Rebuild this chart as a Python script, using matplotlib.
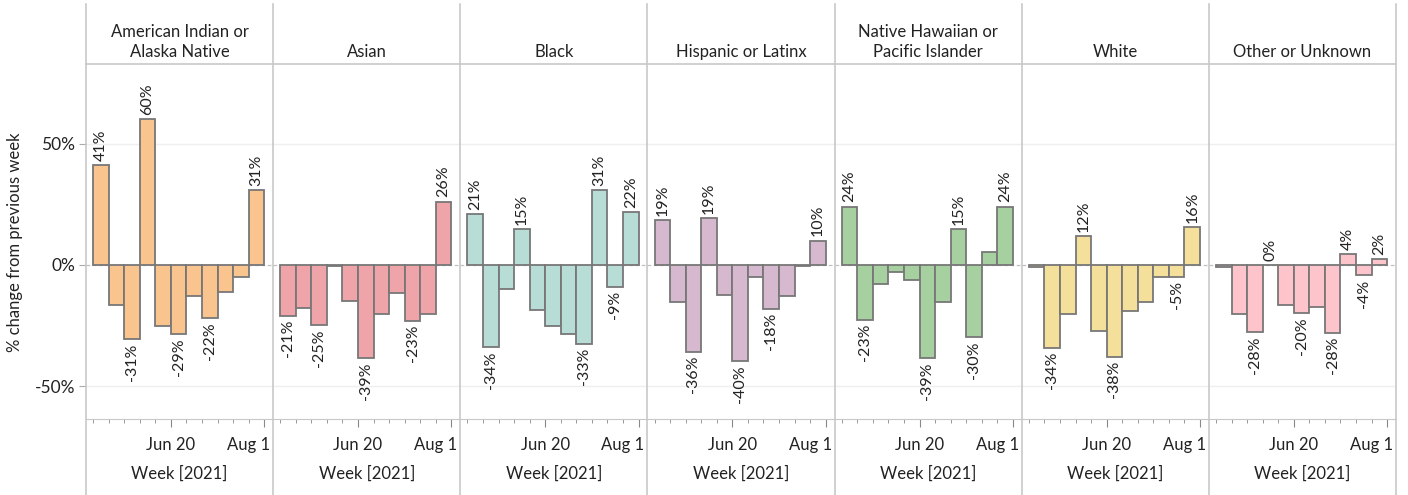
import numpy as np
import matplotlib
matplotlib.use("Agg")
import matplotlib.pyplot as plt
import matplotlib.dates as mdates
from matplotlib.lines import Line2D
from matplotlib.transforms import ScaledTranslation
import datetime

plt.rcParams['font.family'] = ['Lato', 'DejaVu Sans']

# week start dates (11 weekly bars, mid May to end of July 2021)
weeks = [datetime.date(2021, 5, 16) + datetime.timedelta(days=7 * i) for i in range(11)]

groups = ['American Indian or\nAlaska Native', 'Asian', 'Black', 'Hispanic or Latinx',
          'Native Hawaiian or\nPacific Islander', 'White', 'Other or Unknown']
colors = ['#f9c48e', '#eea4a8', '#b8ddd7', '#d6b8cf', '#a7d0a0', '#f5e09b', '#fec4cc']

# % change from previous week
aian = [41.3, -16.7, -30.6, 60.4, -25.3, -28.6, -12.8, -21.8, -11.2, -4.8, 31.0]
asian = [-20.9, -17.9, -24.8, -0.5, -14.9, -38.6, -20.2, -11.7, -23.0, -20.2, 26.2]
black = [21.1, -33.8, -9.9, 14.9, -18.5, -25.3, -28.4, -32.6, 31.0, -9.1, 21.9]
hispanic = [18.6, -15.4, -35.8, 19.3, -12.3, -39.8, -4.8, -18.1, -12.9, -0.6, 10.1]
nhpi = [24.1, -22.6, -8.0, -2.9, -6.1, -38.6, -15.4, 14.9, -29.8, 5.4, 24.1]
white = [-1.0, -34.2, -20.4, 11.8, -27.3, -37.8, -19.1, -15.4, -4.8, -4.9, 15.6]
other = [-1.0, -20.4, -27.8, 0.0, -16.7, -19.8, -17.4, -27.9, 4.4, -4.3, 2.4]
series = [aian, asian, black, hispanic, nhpi, white, other]

# which bars carry a value label in the original
labeled = [
    [0, 2, 3, 5, 7, 10],
    [0, 2, 5, 8, 10],
    [0, 1, 3, 7, 8, 9, 10],
    [0, 2, 3, 5, 7, 10],
    [0, 1, 5, 7, 8, 10],
    [1, 3, 5, 9, 10],
    [2, 3, 5, 7, 8, 9, 10],
]

W, H = 1408, 495
fig = plt.figure(figsize=(W / 100, H / 100), dpi=100)

left0, pw = 86, 187.15
top, bottom = 64, 419
grey_line = '#c8c8c8'
xnum = mdates.date2num(weeks)
minor = [mdates.date2num(datetime.date(2021, 5, 16) + datetime.timedelta(days=7 * i)) for i in range(12)]
major = [mdates.date2num(datetime.date(2021, 6, 20)), mdates.date2num(datetime.date(2021, 8, 1))]
xlo = mdates.date2num(datetime.date(2021, 5, 12)) + 0.8
xhi = mdates.date2num(datetime.date(2021, 8, 5))

for i, (name, vals) in enumerate(zip(groups, series)):
    x0 = left0 + pw * i
    ax = fig.add_axes([x0 / W, (H - bottom) / H, pw / W, (bottom - top) / H])
    ax.bar(xnum, vals, width=7, align='edge', color=colors[i],
           edgecolor='#777777', linewidth=1.3, zorder=3)
    for j in labeled[i]:
        v = vals[j]
        xc = xnum[j] + 3.5
        txt = '%d%%' % round(v)
        if v >= 0:
            ax.annotate(txt, (xc, v), xytext=(0, 3), textcoords='offset points',
                        rotation=90, ha='center', va='bottom', fontsize=11.5, color='#222222')
        else:
            ax.annotate(txt, (xc, v), xytext=(0, -3), textcoords='offset points',
                        rotation=90, ha='center', va='top', fontsize=11.5, color='#222222')
    ax.set_xlim(xlo, xhi)
    ax.set_ylim(-63.6, 83)
    ax.axhline(0, color='#c0c0c0', linestyle=(0, (3, 2)), linewidth=0.9, zorder=1)
    for g in (50, -50):
        ax.axhline(g, color='#efefef', linewidth=1, zorder=0)
    for s in ['top', 'right', 'left']:
        ax.spines[s].set_visible(False)
    ax.spines['bottom'].set_color(grey_line)
    ax.set_xticks(major)
    ax.set_xticklabels(['Jun 20', 'Aug 1'])
    ax.set_xticks([m for m in minor if m not in major], minor=True)
    ax.tick_params(axis='x', which='major', length=6, color='#888888', labelsize=12,
                   labelcolor='#222222', pad=7)
    ax.tick_params(axis='x', which='minor', length=3, color='#888888')
    lab = ax.get_xticklabels()[1]
    lab.set_horizontalalignment('right')
    lab.set_transform(lab.get_transform() + ScaledTranslation(6 / 100, 0, fig.dpi_scale_trans))
    if i == 0:
        ax.set_yticks([-50, 0, 50])
        ax.set_yticklabels(['-50%', '0%', '50%'])
        ax.tick_params(axis='y', length=5, color='#aaaaaa', labelsize=12.5,
                       labelcolor='#222222', pad=3)
    else:
        ax.set_yticks([])
    ax.set_facecolor('none')
    fig.text((x0 + pw / 2) / W, (H - 60) / H, name, ha='center', va='bottom',
             fontsize=12, color='#222222', linespacing=1.3)
    fig.text((x0 + pw / 2) / W, (H - 474) / H, 'Week [2021]', ha='center', va='center',
             fontsize=12, color='#222222')

# panel dividers and header rule
for i in range(8):
    xx = (left0 + pw * i) / W
    fig.add_artist(Line2D([xx, xx], [0, (H - 4) / H], color=grey_line, linewidth=1.2))
fig.add_artist(Line2D([left0 / W, (left0 + pw * 7) / W], [(H - top) / H] * 2,
                      color=grey_line, linewidth=1.2))

fig.text(15 / W, (H - 242) / H, '% change from previous week', rotation=90,
         ha='center', va='center', fontsize=12, color='#222222')

fig.savefig('out.png', dpi=100)
